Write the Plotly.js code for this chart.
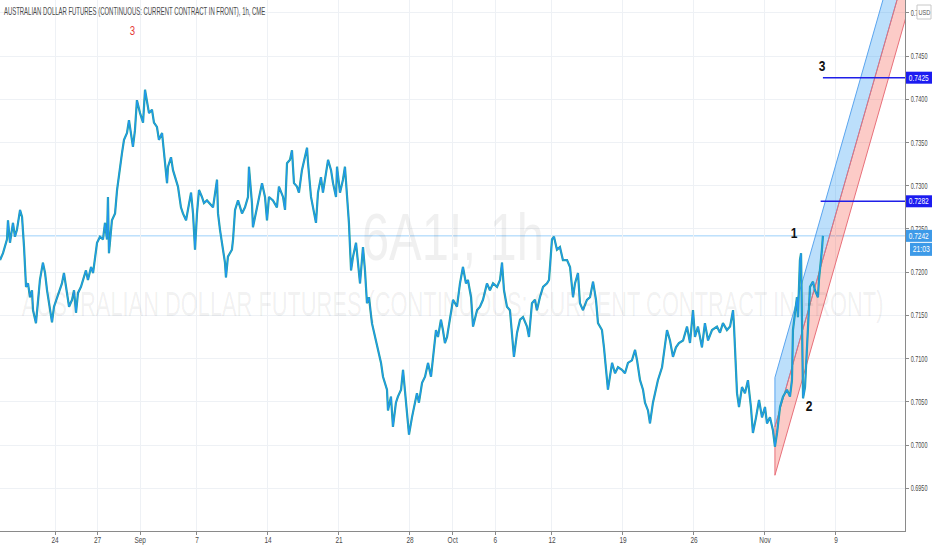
<!DOCTYPE html>
<html>
<head>
<meta charset="utf-8">
<script src="https://cdn.plot.ly/plotly-3.0.1.min.js"></script>
<style>
  html, body { margin: 0; padding: 0; background: #ffffff; }
  #chart { width: 932px; height: 550px; }
</style>
</head>
<body>
<div id="chart"></div>
<script>
// ---- data ----
// time of each sample in trading days after Mon 24 Aug 2020 00:00 (weekends removed, as on the chart)
var tradingDays = [
  -3.87, -3.66, -3.38, -3.31, -3.17, -2.96, -2.82, -2.68, -2.46, -2.32,
  -2.18, -2.04, -1.90, -1.76, -1.62, -1.55, -1.34, -1.20, -1.06, -0.85,
  -0.70, -0.56, -0.35, -0.21, -0.07, 0.14, 0.28, 0.49, 0.63, 0.85,
  0.99, 1.20, 1.34, 1.48, 1.62, 1.83, 1.97, 2.18, 2.32, 2.54,
  2.68, 2.82, 2.96, 3.17, 3.38, 3.52, 3.66, 3.73, 3.80, 4.01,
  4.23, 4.37, 4.51, 4.72, 4.86, 5.07, 5.21, 5.42, 5.49, 5.63,
  5.77, 5.99, 6.20, 6.34, 6.48, 6.62, 6.83, 6.97, 7.18, 7.32,
  7.54, 7.68, 7.89, 7.96, 8.17, 8.31, 8.52, 8.66, 8.87, 9.01,
  9.23, 9.37, 9.58, 9.72, 9.86, 10.00, 10.14, 10.35, 10.49, 10.70,
  10.85, 11.13, 11.41, 11.48,
  11.62, 11.76, 11.97, 12.04, 12.18, 12.46, 12.54, 12.68, 12.89, 13.17,
  13.38, 13.59, 13.66, 13.87, 13.94, 14.23, 14.58, 14.79, 14.93, 15.07,
  15.35, 15.63, 15.77, 16.06, 16.20, 16.34, 16.55, 16.69, 16.83, 17.04,
  17.18, 17.39, 17.61, 17.75, 17.82, 18.03, 18.17, 18.38, 18.52, 18.73,
  18.87, 19.08, 19.23, 19.44, 19.58, 19.79, 19.86, 20.07, 20.28, 20.42,
  20.56, 20.70, 20.85, 20.99, 21.20, 21.34, 21.48, 21.69, 21.83, 21.97,
  22.11, 22.32, 22.54, 22.75, 22.96, 23.10, 23.38, 23.45, 23.66, 23.80,
  24.01, 24.15, 24.37, 24.51, 24.65, 24.79, 24.93, 25.14, 25.28, 25.49,
  25.63, 25.85, 26.06, 26.27, 26.48, 26.62, 26.83, 26.97, 27.18, 27.32,
  27.46, 27.61, 27.82,
  28.03, 28.31, 28.52, 28.73, 28.94, 29.08, 29.30, 29.44, 29.72, 29.93,
  30.14, 30.42, 30.63, 30.85, 31.13, 31.34, 31.48, 31.62, 31.83, 32.04,
  32.25, 32.32, 32.54, 32.75, 32.96, 33.24, 33.38, 33.59, 33.80, 33.94,
  34.15, 34.37, 34.65, 34.79, 35.00, 35.14, 35.35, 35.56, 35.77, 36.06,
  36.27, 36.48, 36.62, 36.83, 36.97, 37.18, 37.46, 37.68, 37.89, 38.10,
  38.24, 38.52, 38.66, 38.87, 38.94, 39.23, 39.44, 39.65, 39.93, 40.14,
  40.35, 40.63, 40.85, 40.99, 41.20, 41.41, 41.55, 41.76, 41.90, 42.11,
  42.25, 42.46, 42.75, 42.96, 43.10, 43.31, 43.52, 43.73, 43.94,
  44.23, 44.51, 44.72, 44.93, 45.07, 45.28, 45.56, 45.77, 45.99, 46.27,
  46.62, 46.83, 47.04, 47.32, 47.54, 47.75, 47.82, 47.96, 48.03, 48.17,
  48.38, 48.59, 48.80, 49.01, 49.15, 49.37, 49.58, 49.79, 50.00, 50.14,
  50.35, 50.56, 50.70, 50.85, 51.06, 51.27, 51.55, 51.76, 51.90, 51.97,
  52.11, 52.25, 52.32, 52.46, 52.54, 52.61, 52.68, 52.82, 52.96, 53.03,
  53.17, 53.38, 53.52, 53.73, 53.80, 54.01, 54.08
];
var prices = [
  0.7214, 0.7222, 0.7238, 0.7260, 0.7234, 0.7257, 0.7241, 0.7249, 0.7272, 0.7264,
  0.7229, 0.7183, 0.7187, 0.7171, 0.7179, 0.7156, 0.7141, 0.7168, 0.7191, 0.7211,
  0.7199, 0.7179, 0.7153, 0.7142, 0.7160, 0.7171, 0.7176, 0.7187, 0.7199, 0.7176,
  0.7160, 0.7168, 0.7179, 0.7153, 0.7176, 0.7183, 0.7191, 0.7202, 0.7191, 0.7206,
  0.7199, 0.7214, 0.7234, 0.7241, 0.7238, 0.7257, 0.7238, 0.7287, 0.7222, 0.7260,
  0.7268, 0.7295, 0.7315, 0.7338, 0.7353, 0.7361, 0.7376, 0.7356, 0.7345, 0.7364,
  0.7399, 0.7384, 0.7373, 0.7411, 0.7399, 0.7384, 0.7388, 0.7373, 0.7368, 0.7353,
  0.7361, 0.7338, 0.7303, 0.7322, 0.7333, 0.7318, 0.7307, 0.7299, 0.7275, 0.7268,
  0.7260, 0.7272, 0.7292, 0.7268, 0.7226, 0.7268, 0.7295, 0.7287, 0.7280, 0.7283,
  0.7280, 0.7275, 0.7307, 0.7268,
  0.7249, 0.7234, 0.7211, 0.7194, 0.7218, 0.7226, 0.7238, 0.7272, 0.7283, 0.7268,
  0.7275, 0.7287, 0.7322, 0.7280, 0.7252, 0.7275, 0.7303, 0.7287, 0.7260, 0.7287,
  0.7283, 0.7275, 0.7299, 0.7287, 0.7272, 0.7326, 0.7330, 0.7341, 0.7303, 0.7299,
  0.7292, 0.7318, 0.7333, 0.7344, 0.7326, 0.7287, 0.7275, 0.7257, 0.7292, 0.7310,
  0.7292, 0.7318, 0.7330, 0.7318, 0.7303, 0.7287, 0.7322, 0.7292, 0.7307, 0.7322,
  0.7287, 0.7257, 0.7202, 0.7218, 0.7234, 0.7211, 0.7187, 0.7229, 0.7202, 0.7164,
  0.7171, 0.7141, 0.7125, 0.7113, 0.7095, 0.7079, 0.7064, 0.7040, 0.7056, 0.7021,
  0.7049, 0.7056, 0.7064, 0.7087, 0.7060, 0.7037, 0.7012, 0.7032, 0.7044, 0.7060,
  0.7049, 0.7072, 0.7079, 0.7095, 0.7079, 0.7102, 0.7133, 0.7125, 0.7145, 0.7133,
  0.7118, 0.7125, 0.7145,
  0.7168, 0.7160, 0.7187, 0.7206, 0.7187, 0.7191, 0.7171, 0.7137, 0.7156, 0.7160,
  0.7168, 0.7187, 0.7179, 0.7187, 0.7183, 0.7191, 0.7211, 0.7179, 0.7160, 0.7156,
  0.7110, 0.7102, 0.7130, 0.7145, 0.7148, 0.7137, 0.7125, 0.7164, 0.7168, 0.7156,
  0.7171, 0.7183, 0.7187, 0.7191, 0.7238, 0.7241, 0.7226, 0.7229, 0.7214, 0.7214,
  0.7206, 0.7171, 0.7187, 0.7199, 0.7164, 0.7156, 0.7168, 0.7171, 0.7189, 0.7168,
  0.7141, 0.7133, 0.7113, 0.7072, 0.7064, 0.7095, 0.7083, 0.7090, 0.7087, 0.7083,
  0.7095, 0.7098, 0.7110, 0.7098, 0.7075, 0.7064, 0.7049, 0.7040, 0.7025, 0.7049,
  0.7060, 0.7075, 0.7090, 0.7113, 0.7133, 0.7121, 0.7102, 0.7113, 0.7118,
  0.7121, 0.7137, 0.7118, 0.7156, 0.7125, 0.7137, 0.7113, 0.7141, 0.7121, 0.7133,
  0.7137, 0.7130, 0.7141, 0.7133, 0.7137, 0.7156, 0.7137, 0.7087, 0.7060, 0.7044,
  0.7067, 0.7060, 0.7075, 0.7044, 0.7014, 0.7032, 0.7052, 0.7032, 0.7044, 0.7025,
  0.7032, 0.7017, 0.6998, 0.7014, 0.7044, 0.7056, 0.7064, 0.7056, 0.7075, 0.7133,
  0.7156, 0.7171, 0.7148, 0.7214, 0.7222, 0.7087, 0.7054, 0.7067, 0.7121, 0.7145,
  0.7183, 0.7189, 0.7179, 0.7171, 0.7191, 0.7226, 0.7242
];
var lastPrice = 0.7242;
var countdown = '21:03';

// channel drawing (two parallel bands), times in trading days
var channelDays  = [50.70, 59.96];
var channelUpper = [0.7078, 0.7610];
var channelMid   = [0.7021, 0.7553];
var channelLower = [0.6965, 0.7497];

// horizontal target levels
var levelPrices = [0.7425, 0.7282];
var levelStartDays = [54.08, 53.92];
var levelEndDay = 59.96;

// wave labels
var waveText   = ['1', '2', '3'];
var waveDays   = [52.04, 53.10, 54.01];
var wavePrices = [0.7246, 0.7046, 0.7439];
var redLabelText = '3', redLabelDay = 5.49, redLabelPrice = 0.7479;

// axis ticks
var xTickDays = [0, 3, 6, 10, 15, 20, 25, 28, 31, 35, 40, 45, 50, 55];
var xTickText = ['24', '27', 'Sep', '7', '14', '21', '28', 'Oct', '6', '12', '19', '26', 'Nov', '9'];
var yTickVals = [0.6950, 0.7000, 0.7050, 0.7100, 0.7150, 0.7200, 0.7250, 0.7300, 0.7350, 0.7400, 0.7450, 0.7500];
var xRangeDays = [-3.873, 59.86];

// ---- trading day -> calendar date (Mon-Fri only) ----
var BASE = Date.UTC(2020, 7, 24);
function pad(n) { return (n < 10 ? '0' : '') + n; }
function toDate(t) {
  var day = Math.floor(t + 1e-9), frac = t - day;
  var weeks = Math.floor(day / 5), dow = day - weeks * 5;
  var d = new Date(BASE + ((weeks * 7 + dow) + frac) * 86400000);
  return d.getUTCFullYear() + '-' + pad(d.getUTCMonth() + 1) + '-' + pad(d.getUTCDate()) + ' ' +
         pad(d.getUTCHours()) + ':' + pad(d.getUTCMinutes()) + ':' + pad(d.getUTCSeconds());
}
var times = tradingDays.map(toDate);
var cT = channelDays.map(toDate);

var FONT = 'Liberation Sans, Arial, sans-serif';

var traces = [];
traces.push({
  x: [cT[0], cT[1], cT[1], cT[0], cT[0]],
  y: [channelUpper[0], channelUpper[1], channelMid[1], channelMid[0], channelUpper[0]],
  mode: 'lines', fill: 'toself', fillcolor: 'rgba(33,150,243,0.3)',
  line: {color: '#5aa5ef', width: 1}, hoverinfo: 'skip', showlegend: false
});
traces.push({
  x: [cT[0], cT[1], cT[1], cT[0], cT[0]],
  y: [channelMid[0], channelMid[1], channelLower[1], channelLower[0], channelMid[0]],
  mode: 'lines', fill: 'toself', fillcolor: 'rgba(244,67,54,0.28)',
  line: {color: '#e8707a', width: 1}, hoverinfo: 'skip', showlegend: false
});
traces.push({
  x: times, y: prices, mode: 'lines',
  line: {color: '#26a69a', width: 2.2}, hoverinfo: 'skip', showlegend: false
});
traces.push({
  x: times, y: prices, mode: 'lines',
  line: {color: '#2196f3', width: 1.1}, hoverinfo: 'skip', showlegend: false
});
for (var j = 0; j < levelPrices.length; j++) {
  traces.push({
    x: [toDate(levelStartDays[j]), toDate(levelEndDay)], y: [levelPrices[j], levelPrices[j]], mode: 'lines',
    line: {color: '#1f1fe8', width: 1.5}, hoverinfo: 'skip', showlegend: false
  });
}

// annotations + how much each one's text is condensed (the chart's font is a narrow face)
var annotations = [], squeeze = [];
function addAnn(a, s) { annotations.push(a); squeeze.push(s); }

addAnn({xref: 'paper', yref: 'paper', x: 134 / 905, y: 1, xanchor: 'center', yanchor: 'top', yshift: -4,
  text: 'AUSTRALIAN DOLLAR FUTURES (CONTINUOUS: CURRENT CONTRACT IN FRONT), 1h, CME',
  showarrow: false, font: {family: FONT, size: 10, color: '#4a4a4a'}}, {width: 262});
addAnn({xref: 'paper', yref: 'paper', x: 0.5, y: 0.553, xanchor: 'center', yanchor: 'middle',
  text: '6A1!, 1h', showarrow: false, font: {family: FONT, size: 66, color: 'rgba(60,60,60,0.075)'}}, {width: 182});
addAnn({xref: 'paper', yref: 'paper', x: 0.5, y: 0.428, xanchor: 'center', yanchor: 'middle',
  text: 'AUSTRALIAN DOLLAR FUTURES (CONTINUOUS: CURRENT CONTRACT IN FRONT)', showarrow: false,
  font: {family: FONT, size: 35, color: 'rgba(60,60,60,0.075)'}}, {width: 862});
for (var w = 0; w < waveText.length; w++) {
  addAnn({xref: 'x', yref: 'y', x: toDate(waveDays[w]), y: wavePrices[w], text: waveText[w], showarrow: false,
    font: {family: FONT, size: 15, color: '#111111', weight: 'bold'}}, {factor: 0.8});
}
addAnn({xref: 'x', yref: 'y', x: toDate(redLabelDay), y: redLabelPrice, text: redLabelText, showarrow: false,
  font: {family: FONT, size: 12, color: '#e53935'}}, {factor: 0.8});
var boxTexts = [levelPrices[0].toFixed(4), levelPrices[1].toFixed(4), lastPrice.toFixed(4)];
var boxPrices = [levelPrices[0], levelPrices[1], lastPrice];
for (var b = 0; b < boxTexts.length; b++) {
  addAnn({xref: 'paper', yref: 'y', x: 1, y: boxPrices[b], xanchor: 'center', yanchor: 'middle', xshift: 14,
    text: boxTexts[b], showarrow: false, font: {family: FONT, size: 9, color: '#ffffff'}}, {width: 20});
}
addAnn({xref: 'paper', yref: 'y', x: 1, y: lastPrice, xanchor: 'center', yanchor: 'middle', xshift: 16, yshift: -13,
  text: countdown, showarrow: false, font: {family: FONT, size: 9, color: '#ffffff'}}, {width: 17});
addAnn({xref: 'paper', yref: 'paper', x: 1, y: 1, xanchor: 'center', yanchor: 'middle', xshift: 19, yshift: -12,
  text: 'USD', showarrow: false, font: {family: FONT, size: 8, color: '#555555'}}, {width: 12});

var shapes = [
  {type: 'line', xref: 'paper', yref: 'y', x0: 0, x1: 1, y0: lastPrice, y1: lastPrice,
   line: {color: 'rgba(33,150,243,0.45)', width: 1}, layer: 'below'},
  {type: 'rect', xref: 'paper', xsizemode: 'pixel', xanchor: 1, x0: 1, x1: 28,
   yref: 'y', ysizemode: 'pixel', yanchor: levelPrices[0], y0: -6, y1: 6,
   fillcolor: '#1c1cf0', line: {width: 0}, layer: 'above'},
  {type: 'rect', xref: 'paper', xsizemode: 'pixel', xanchor: 1, x0: 1, x1: 28,
   yref: 'y', ysizemode: 'pixel', yanchor: levelPrices[1], y0: -6, y1: 6,
   fillcolor: '#1c1cf0', line: {width: 0}, layer: 'above'},
  {type: 'rect', xref: 'paper', xsizemode: 'pixel', xanchor: 1, x0: 1, x1: 28,
   yref: 'y', ysizemode: 'pixel', yanchor: lastPrice, y0: -6, y1: 6,
   fillcolor: '#3d9ae8', line: {width: 0}, layer: 'above'},
  {type: 'rect', xref: 'paper', xsizemode: 'pixel', xanchor: 1, x0: 5, x1: 27,
   yref: 'y', ysizemode: 'pixel', yanchor: lastPrice, y0: -20, y1: -7,
   fillcolor: '#3d9ae8', line: {width: 0}, layer: 'above'},
  {type: 'rect', xref: 'paper', xsizemode: 'pixel', xanchor: 1, x0: 12, x1: 26,
   yref: 'paper', ysizemode: 'pixel', yanchor: 1, y0: -5, y1: -19,
   fillcolor: '#ffffff', line: {width: 1, color: '#c8c8c8'}, layer: 'above'}
];

var layout = {
  width: 932, height: 550,
  margin: {l: 0, r: 27, t: 0, b: 19, pad: 0},
  paper_bgcolor: '#ffffff', plot_bgcolor: '#ffffff',
  font: {family: FONT, size: 9, color: '#4a4a4a'},
  showlegend: false,
  xaxis: {
    type: 'date',
    range: [toDate(xRangeDays[0]), toDate(xRangeDays[1])],
    rangebreaks: [{bounds: ['sat', 'mon']}],
    tickmode: 'array', tickvals: xTickDays.map(toDate), ticktext: xTickText,
    showgrid: true, gridcolor: '#eef1f5', gridwidth: 1,
    showline: true, linecolor: '#8a8a8a', linewidth: 1,
    ticks: 'outside', ticklen: 3, tickcolor: '#8a8a8a',
    tickfont: {family: FONT, size: 9, color: '#4a4a4a'},
    zeroline: false, fixedrange: true
  },
  yaxis: {
    side: 'right',
    range: [0.69005, 0.75149],
    tickmode: 'array', tickvals: yTickVals, tickformat: '.4f',
    showgrid: true, gridcolor: '#eef1f5', gridwidth: 1,
    showline: true, linecolor: '#8a8a8a', linewidth: 1,
    ticks: 'outside', ticklen: 3, tickcolor: '#8a8a8a',
    tickfont: {family: FONT, size: 8.5, color: '#4a4a4a'},
    zeroline: false, fixedrange: true
  },
  shapes: shapes,
  annotations: annotations
};

// condense a text horizontally with an SVG transform (keeps it real, selectable text)
function condense(el, opt, anchor, dy) {
  if (!el || !el.getBBox) return;
  var bb = el.getBBox();
  if (!bb.width) return;
  var f = opt.width ? opt.width / bb.width : opt.factor;
  var cx = anchor === 'start' ? bb.x : bb.x + bb.width / 2;
  var cy = bb.y + bb.height / 2;
  var prev = el.getAttribute('transform') || '';
  el.setAttribute('transform', prev + ' translate(' + cx.toFixed(2) + ',' + ((dy || 0) + cy).toFixed(2) + ')' +
    ' scale(' + f.toFixed(4) + ',1) translate(' + (-cx).toFixed(2) + ',' + (-cy).toFixed(2) + ')');
}

Plotly.newPlot('chart', traces, layout, {displayModeBar: false, staticPlot: true}).then(function (gd) {
  gd.querySelectorAll('g.annotation').forEach(function (g) {
    var idx = +g.getAttribute('data-index');
    condense(g.querySelector('text.annotation-text'), squeeze[idx], 'middle', 0);
  });
  gd.querySelectorAll('g.ytick text').forEach(function (t) { condense(t, {width: 17}, 'start', 0); });
  gd.querySelectorAll('g.xtick text').forEach(function (t) { condense(t, {factor: 0.72}, 'middle', -3); });
});
</script>
</body>
</html>
